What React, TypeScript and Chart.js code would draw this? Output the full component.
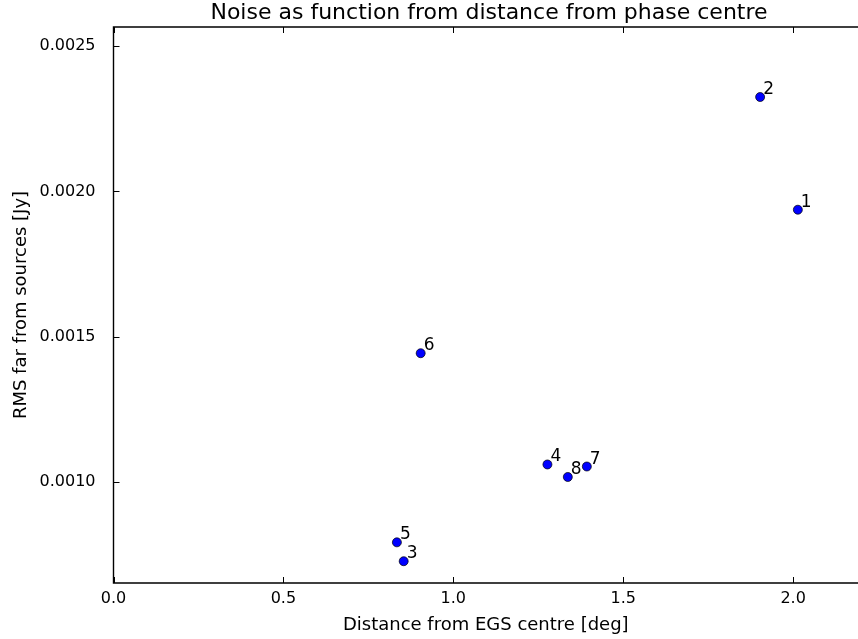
import React, { useEffect, useRef } from "react";
import { Chart, registerables } from "chart.js";

Chart.register(...registerables);

const sourceIds = ["1", "2", "3", "4", "5", "6", "7", "8"];
const distanceDeg = [2.014, 1.903, 0.854, 1.277, 0.834, 0.904, 1.393, 1.337];
const rmsJy = [0.001937, 0.002325, 0.000727, 0.00106, 0.000792, 0.001443, 0.001053, 0.001017];
const xTickValues = [0, 0.5, 1.0, 1.5, 2.0];
const yTickValues = [0.001, 0.0015, 0.002, 0.0025];
const chartTitle = "Noise as function from distance from phase centre";
const xTitle = "Distance from EGS centre [deg]";
const yTitle = "RMS far from sources [Jy]";

const FONT = '"DejaVu Sans", "Noto Sans", sans-serif';

const framePlugin = {
  id: "mplFrame",
  afterDatasetsDraw(chart: any) {
    const { ctx, chartArea, scales } = chart;
    const { left, top, right, bottom } = chartArea;
    const x = scales.x;
    const y = scales.y;
    ctx.save();
    ctx.strokeStyle = "#000";
    ctx.lineWidth = 1;
    ctx.beginPath();
    xTickValues.forEach((v) => {
      const px = Math.round(x.getPixelForValue(v)) + 0.5;
      ctx.moveTo(px, bottom);
      ctx.lineTo(px, bottom - 6);
      ctx.moveTo(px, top);
      ctx.lineTo(px, top + 6);
    });
    yTickValues.forEach((v) => {
      const py = Math.round(y.getPixelForValue(v)) + 0.5;
      ctx.moveTo(left, py);
      ctx.lineTo(left + 6, py);
    });
    ctx.stroke();

    ctx.lineWidth = 1.4;
    ctx.beginPath();
    ctx.moveTo(right + 2, top);
    ctx.lineTo(left, top);
    ctx.lineTo(left, bottom);
    ctx.lineTo(right + 2, bottom);
    ctx.stroke();

    const meta = chart.getDatasetMeta(0);
    ctx.fillStyle = "#000";
    ctx.font = `17px ${FONT}`;
    ctx.textAlign = "left";
    ctx.textBaseline = "alphabetic";
    meta.data.forEach((pt: any, i: number) => {
      ctx.fillText(sourceIds[i], pt.x + 3, pt.y - 3);
    });

    ctx.font = `22px ${FONT}`;
    ctx.textAlign = "center";
    ctx.fillText(chartTitle, 489, 19);
    ctx.restore();
  },
};

export default function App() {
  const canvasRef = useRef<HTMLCanvasElement | null>(null);

  useEffect(() => {
    document.body.style.margin = "0";
    const canvas = canvasRef.current;
    if (!canvas) return;
    const chart = new Chart(canvas, {
      type: "scatter",
      data: {
        datasets: [
          {
            data: distanceDeg.map((d, i) => ({ x: d, y: rmsJy[i] })),
            backgroundColor: "#0000ff",
            borderColor: "#000",
            borderWidth: 0.7,
            pointRadius: 4.5,
            pointHoverRadius: 4.5,
          },
        ],
      },
      options: {
        animation: false,
        responsive: false,
        devicePixelRatio: 1,
        layout: { autoPadding: false, padding: { top: 27, right: 0, left: 0, bottom: 0 } },
        plugins: {
          legend: { display: false },
          tooltip: { enabled: false },
          title: { display: false },
        },
        scales: {
          x: {
            type: "linear",
            min: 0,
            max: 2.191,
            grid: { display: false },
            border: { display: false },
            afterBuildTicks: (scale: any) => {
              scale.ticks = xTickValues.map((v) => ({ value: v }));
            },
            afterFit: (scale: any) => {
              scale.height = 56;
            },
            ticks: {
              padding: -2,
              color: "#000",
              font: { family: FONT, size: 16 },
              maxRotation: 0,
              callback: (v: any) => Number(v).toFixed(1),
            },
            title: {
              display: true,
              text: xTitle,
              color: "#000",
              font: { family: FONT, size: 18 },
              padding: { top: 0, bottom: 3 },
            },
          },
          y: {
            type: "linear",
            min: 0.000652,
            max: 0.002566,
            grid: { display: false },
            border: { display: false },
            afterBuildTicks: (scale: any) => {
              scale.ticks = yTickValues.map((v) => ({ value: v }));
            },
            afterFit: (scale: any) => {
              scale.width = 113.5;
            },
            ticks: {
              padding: 10,
              color: "#000",
              font: { family: FONT, size: 16 },
              callback: (v: any) => Number(v).toFixed(4),
            },
            title: {
              display: true,
              text: yTitle,
              color: "#000",
              font: { family: FONT, size: 18 },
              padding: { top: 11, bottom: 0 },
            },
          },
        },
      },
      plugins: [framePlugin],
    });
    return () => chart.destroy();
  }, []);

  return (
    <div style={{ position: "absolute", left: 0, top: 0, width: 858, height: 639, background: "#fff" }}>
      <canvas ref={canvasRef} width={858} height={639} />
    </div>
  );
}
